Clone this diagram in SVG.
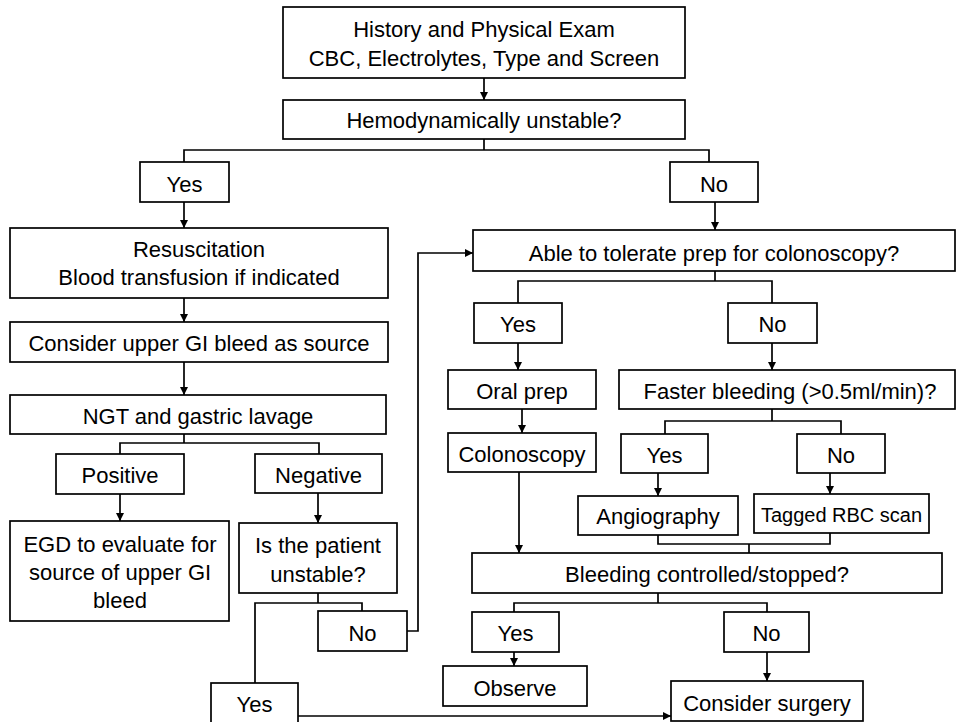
<svg xmlns="http://www.w3.org/2000/svg" width="957" height="722" viewBox="0 0 957 722">
  <style>
    .box { fill: #ffffff; stroke: #000000; stroke-width: 1.7; }
    .lbl { font-family: "Liberation Sans", Arial, sans-serif; font-size: 22px; fill: #000000; text-anchor: middle; }
    .sm { font-size: 20px; }
    .wire { fill: none; stroke: #000000; stroke-width: 1.7; }
    .arr { marker-end: url(#head); }
  </style>
  <defs>
    <marker id="head" viewBox="0 0 10 10" refX="10" refY="5" markerWidth="8" markerHeight="9" markerUnits="userSpaceOnUse" orient="auto">
      <path d="M0,0 L10,5 L0,10 Z" fill="#000000"/>
    </marker>
  </defs>
  <rect width="957" height="722" fill="#ffffff"/>

  <!-- connectors -->
  <g id="connectors">
    <path class="wire arr" d="M484,78 V100"/>
    <path class="wire" d="M484,139 V150"/>
    <path class="wire" d="M184,162 V150 H709 V162"/>
    <path class="wire arr" d="M184,202 V228"/>
    <path class="wire arr" d="M715,202 V230"/>
    <path class="wire arr" d="M184,298 V322"/>
    <path class="wire arr" d="M184,362 V395"/>
    <path class="wire" d="M184,434 V443"/>
    <path class="wire" d="M120,454 V443 H319 V454"/>
    <path class="wire arr" d="M120,494 V521"/>
    <path class="wire arr" d="M318,493 V523"/>
    <path class="wire" d="M318,593 V603"/>
    <path class="wire" d="M255,683 V603 H362 V611"/>
    <path class="wire arr" d="M407,631 H418 V253 H473"/>
    <path class="wire arr" d="M298,716 H671"/>
    <path class="wire" d="M715,271 V281"/>
    <path class="wire" d="M518,303 V281 H772 V303"/>
    <path class="wire arr" d="M518,343 V370"/>
    <path class="wire arr" d="M772,343 V370"/>
    <path class="wire arr" d="M522,409 V433"/>
    <path class="wire" d="M772,409 V421"/>
    <path class="wire" d="M665,434 V421 H841 V434"/>
    <path class="wire arr" d="M519,472 V553"/>
    <path class="wire arr" d="M658,473 V496"/>
    <path class="wire arr" d="M830,473 V494"/>
    <path class="wire" d="M658,535 V544 H830 V533"/>
    <path class="wire" d="M749,544 V553"/>
    <path class="wire" d="M658,593 V603"/>
    <path class="wire" d="M514,612 V603 H767 V612"/>
    <path class="wire arr" d="M514,652 V666"/>
    <path class="wire arr" d="M767,652 V681"/>
  </g>

  <!-- nodes -->
  <g id="history">
    <rect class="box" x="283" y="7" width="402" height="71"/>
    <text class="lbl" x="484" y="37">History and Physical Exam</text>
    <text class="lbl" x="484" y="66">CBC, Electrolytes, Type and Screen</text>
  </g>
  <g id="hemodynamic">
    <rect class="box" x="283" y="100" width="402" height="39"/>
    <text class="lbl" x="484" y="128">Hemodynamically unstable?</text>
  </g>
  <g id="hemo-yes">
    <rect class="box" x="140" y="162" width="89" height="40"/>
    <text class="lbl" x="184.5" y="192">Yes</text>
  </g>
  <g id="hemo-no">
    <rect class="box" x="670" y="162" width="88" height="40"/>
    <text class="lbl" x="714" y="192">No</text>
  </g>
  <g id="resuscitation">
    <rect class="box" x="10" y="228" width="378" height="70"/>
    <text class="lbl" x="199" y="257">Resuscitation</text>
    <text class="lbl" x="199" y="285">Blood transfusion if indicated</text>
  </g>
  <g id="upper-gi">
    <rect class="box" x="10" y="322" width="378" height="40"/>
    <text class="lbl" x="199" y="351">Consider upper GI bleed as source</text>
  </g>
  <g id="ngt">
    <rect class="box" x="10" y="395" width="376" height="39"/>
    <text class="lbl" x="198" y="424">NGT and gastric lavage</text>
  </g>
  <g id="positive">
    <rect class="box" x="56" y="454" width="128" height="40"/>
    <text class="lbl" x="120" y="483">Positive</text>
  </g>
  <g id="negative">
    <rect class="box" x="255" y="454" width="127" height="39"/>
    <text class="lbl" x="318.5" y="483">Negative</text>
  </g>
  <g id="egd">
    <rect class="box" x="10" y="521" width="219" height="100"/>
    <text class="lbl" x="120" y="552">EGD to evaluate for</text>
    <text class="lbl" x="120" y="580">source of upper GI</text>
    <text class="lbl" x="120" y="608">bleed</text>
  </g>
  <g id="patient-unstable">
    <rect class="box" x="239" y="523" width="158" height="70"/>
    <text class="lbl" x="318" y="553">Is the patient</text>
    <text class="lbl" x="318" y="582">unstable?</text>
  </g>
  <g id="patient-no">
    <rect class="box" x="318" y="611" width="89" height="40"/>
    <text class="lbl" x="362.5" y="641">No</text>
  </g>
  <g id="patient-yes">
    <rect class="box" x="211" y="683" width="87" height="42"/>
    <text class="lbl" x="254.5" y="712">Yes</text>
  </g>
  <g id="tolerate-prep">
    <rect class="box" x="473" y="230" width="482" height="41"/>
    <text class="lbl" x="714" y="261">Able to tolerate prep for colonoscopy?</text>
  </g>
  <g id="prep-yes">
    <rect class="box" x="474" y="303" width="88" height="40"/>
    <text class="lbl" x="518" y="332">Yes</text>
  </g>
  <g id="prep-no">
    <rect class="box" x="728" y="303" width="89" height="40"/>
    <text class="lbl" x="772.5" y="332">No</text>
  </g>
  <g id="oral-prep">
    <rect class="box" x="448" y="370" width="148" height="39"/>
    <text class="lbl" x="522" y="399">Oral prep</text>
  </g>
  <g id="faster-bleeding">
    <rect class="box" x="619" y="370" width="336" height="39"/>
    <text class="lbl" x="790" y="399">Faster bleeding (&gt;0.5ml/min)?</text>
  </g>
  <g id="colonoscopy">
    <rect class="box" x="448" y="433" width="148" height="39"/>
    <text class="lbl" x="522" y="462">Colonoscopy</text>
  </g>
  <g id="faster-yes">
    <rect class="box" x="621" y="434" width="87" height="39"/>
    <text class="lbl" x="664.5" y="463">Yes</text>
  </g>
  <g id="faster-no">
    <rect class="box" x="797" y="434" width="88" height="39"/>
    <text class="lbl" x="841" y="463">No</text>
  </g>
  <g id="angiography">
    <rect class="box" x="578" y="496" width="160" height="39"/>
    <text class="lbl" x="658" y="524">Angiography</text>
  </g>
  <g id="tagged-rbc">
    <rect class="box" x="754" y="494" width="175" height="39"/>
    <text class="lbl sm" x="841.5" y="522">Tagged RBC scan</text>
  </g>
  <g id="bleeding-controlled">
    <rect class="box" x="472" y="553" width="470" height="40"/>
    <text class="lbl" x="707" y="582">Bleeding controlled/stopped?</text>
  </g>
  <g id="controlled-yes">
    <rect class="box" x="472" y="612" width="87" height="40"/>
    <text class="lbl" x="515.5" y="641">Yes</text>
  </g>
  <g id="controlled-no">
    <rect class="box" x="724" y="612" width="85" height="40"/>
    <text class="lbl" x="766.5" y="641">No</text>
  </g>
  <g id="observe">
    <rect class="box" x="443" y="666" width="144" height="40"/>
    <text class="lbl" x="515" y="696">Observe</text>
  </g>
  <g id="surgery">
    <rect class="box" x="671" y="681" width="192" height="40"/>
    <text class="lbl" x="767" y="711">Consider surgery</text>
  </g>
</svg>
